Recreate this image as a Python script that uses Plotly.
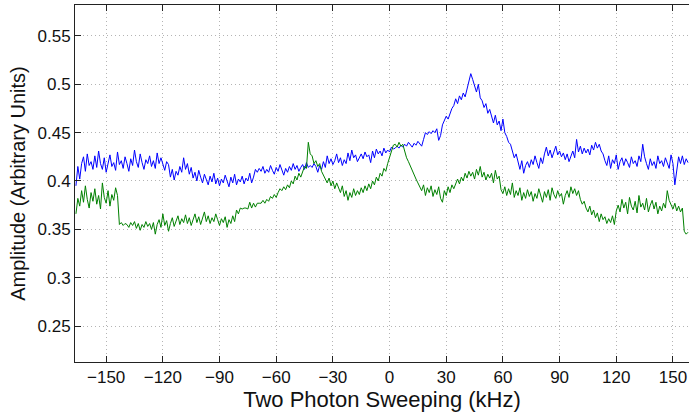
import plotly.graph_objects as go

# Sweep frequency grid (kHz), 1 kHz steps
freq = list(range(-166, 159, 1))

blue = [
    0.395, 0.415, 0.402, 0.418, 0.425, 0.410, 0.428, 0.416, 0.420, 0.412,
    0.426, 0.414, 0.431, 0.418, 0.412, 0.424, 0.409, 0.420, 0.427, 0.415,
    0.419, 0.411, 0.430, 0.417, 0.421, 0.413, 0.425, 0.418, 0.410, 0.423,
    0.416, 0.432, 0.420, 0.414, 0.428, 0.419, 0.412, 0.422, 0.418, 0.426,
    0.415, 0.421, 0.413, 0.429, 0.418, 0.424, 0.416, 0.411, 0.420, 0.417,
    0.404, 0.412, 0.401, 0.410, 0.406, 0.415, 0.409, 0.424, 0.412, 0.418,
    0.407, 0.414, 0.403, 0.409, 0.400, 0.411, 0.404, 0.398, 0.407, 0.401,
    0.396, 0.405, 0.399, 0.408, 0.397, 0.403, 0.395, 0.402, 0.398, 0.406,
    0.400, 0.394, 0.404, 0.398, 0.407, 0.396, 0.402, 0.399, 0.405, 0.397,
    0.403, 0.400, 0.408, 0.398, 0.404, 0.412, 0.409, 0.413, 0.410, 0.415,
    0.408, 0.412, 0.409, 0.416, 0.411, 0.407, 0.414, 0.410, 0.417, 0.412,
    0.406, 0.413, 0.409, 0.415, 0.411, 0.418, 0.412, 0.416, 0.410, 0.414,
    0.417, 0.412, 0.419, 0.414, 0.416, 0.414, 0.418, 0.415, 0.409, 0.416,
    0.412, 0.420, 0.414, 0.426, 0.418, 0.423, 0.417, 0.421, 0.428, 0.419,
    0.424, 0.416, 0.422, 0.418, 0.429, 0.421, 0.432, 0.424, 0.427, 0.420,
    0.425, 0.428, 0.423, 0.430, 0.425, 0.427, 0.419, 0.431, 0.424, 0.433,
    0.428, 0.431, 0.426, 0.434, 0.429, 0.432, 0.430, 0.435, 0.433, 0.434,
    0.436, 0.434, 0.437, 0.435, 0.438, 0.436, 0.440, 0.437, 0.435, 0.439,
    0.437, 0.441, 0.438, 0.436, 0.443, 0.450, 0.448, 0.451, 0.449, 0.452,
    0.450, 0.454, 0.442, 0.447, 0.458, 0.462, 0.467, 0.464, 0.470, 0.475,
    0.478, 0.485, 0.480, 0.488, 0.484, 0.491, 0.487, 0.495, 0.500, 0.511,
    0.505, 0.498, 0.492, 0.500, 0.486, 0.483, 0.476, 0.480, 0.470, 0.474,
    0.466, 0.460, 0.468, 0.458, 0.462, 0.452, 0.464, 0.450, 0.446, 0.440,
    0.438, 0.432, 0.424, 0.428, 0.418, 0.412, 0.421, 0.408, 0.416, 0.420,
    0.414, 0.422, 0.417, 0.426, 0.419, 0.413, 0.424, 0.418, 0.428, 0.435,
    0.426, 0.432, 0.424, 0.430, 0.436, 0.427, 0.431, 0.425, 0.429, 0.422,
    0.428, 0.420, 0.426, 0.431, 0.424, 0.443, 0.430, 0.436, 0.428, 0.434,
    0.429, 0.433, 0.427, 0.437, 0.432, 0.440, 0.434, 0.438, 0.431, 0.428,
    0.421, 0.416, 0.426, 0.413, 0.422, 0.418, 0.427, 0.412, 0.420, 0.424,
    0.416, 0.423, 0.419, 0.414, 0.425, 0.418, 0.421, 0.415, 0.426, 0.420,
    0.438, 0.425, 0.418, 0.412, 0.423, 0.416, 0.420, 0.413, 0.426, 0.418,
    0.421, 0.415, 0.424, 0.419, 0.413, 0.427, 0.418, 0.396, 0.412, 0.425,
    0.418, 0.426, 0.417, 0.423, 0.419,
]

green = [
    0.366, 0.382, 0.374, 0.390, 0.378, 0.395, 0.381, 0.372, 0.388, 0.379,
    0.392, 0.376, 0.385, 0.371, 0.398, 0.383, 0.377, 0.390, 0.374, 0.386,
    0.380, 0.393, 0.385, 0.355, 0.357, 0.354, 0.356, 0.355, 0.352, 0.357,
    0.354, 0.358, 0.351, 0.356, 0.349, 0.355, 0.352, 0.358, 0.353, 0.356,
    0.350, 0.357, 0.345, 0.355, 0.360, 0.352, 0.366, 0.354, 0.359, 0.348,
    0.356, 0.362, 0.353, 0.358, 0.364, 0.355, 0.361, 0.357, 0.365, 0.356,
    0.362, 0.354, 0.360, 0.366, 0.357, 0.363, 0.355, 0.361, 0.368, 0.358,
    0.364, 0.356, 0.362, 0.358, 0.366, 0.360, 0.354, 0.361, 0.357, 0.363,
    0.352, 0.360, 0.356, 0.364, 0.358, 0.370, 0.366, 0.372, 0.371, 0.372,
    0.372, 0.371, 0.378, 0.372, 0.377, 0.373, 0.377, 0.377, 0.377, 0.380,
    0.377, 0.381, 0.379, 0.384, 0.382, 0.386, 0.383, 0.388, 0.392, 0.390,
    0.394, 0.391, 0.396, 0.393, 0.400, 0.397, 0.405, 0.401, 0.408, 0.404,
    0.410, 0.415, 0.413, 0.440, 0.428, 0.426, 0.418, 0.421, 0.415, 0.418,
    0.410, 0.406, 0.402, 0.398, 0.403, 0.395, 0.400, 0.392, 0.398, 0.393,
    0.388, 0.395, 0.384, 0.390, 0.380, 0.388, 0.383, 0.392, 0.385, 0.390,
    0.386, 0.393, 0.388, 0.395, 0.390, 0.397, 0.392, 0.400, 0.396, 0.404,
    0.400, 0.408, 0.405, 0.413, 0.410, 0.418, 0.424, 0.430, 0.437, 0.438,
    0.435, 0.440, 0.436, 0.438, 0.430, 0.424, 0.420, 0.415, 0.410, 0.406,
    0.402, 0.398, 0.394, 0.390, 0.396, 0.385, 0.393, 0.388, 0.395, 0.384,
    0.391, 0.386, 0.394, 0.382, 0.378, 0.390, 0.385, 0.394, 0.388, 0.396,
    0.392, 0.398, 0.402, 0.397, 0.404, 0.400, 0.408, 0.403, 0.410, 0.405,
    0.409, 0.402, 0.412, 0.406, 0.415, 0.404, 0.409, 0.401, 0.407, 0.403,
    0.408, 0.398, 0.411, 0.402, 0.405, 0.391, 0.387, 0.394, 0.385, 0.392,
    0.386, 0.398, 0.383, 0.390, 0.385, 0.393, 0.380, 0.388, 0.382, 0.391,
    0.384, 0.389, 0.379, 0.387, 0.382, 0.392, 0.385, 0.378, 0.389, 0.383,
    0.391, 0.380, 0.393, 0.386, 0.382, 0.390, 0.384, 0.387, 0.376, 0.385,
    0.390, 0.383, 0.394, 0.387, 0.392, 0.385, 0.390, 0.381, 0.376, 0.379,
    0.372, 0.368, 0.374, 0.365, 0.370, 0.362, 0.367, 0.358, 0.366, 0.360,
    0.363, 0.356, 0.361, 0.357, 0.364, 0.355, 0.369, 0.375, 0.368, 0.381,
    0.372, 0.378, 0.366, 0.383, 0.374, 0.370, 0.379, 0.367, 0.385, 0.373,
    0.377, 0.370, 0.382, 0.368, 0.375, 0.380, 0.371, 0.378, 0.366, 0.374,
    0.369, 0.377, 0.372, 0.390, 0.380, 0.375, 0.371, 0.377, 0.369, 0.374,
    0.368, 0.372, 0.348, 0.345, 0.347,
]

x_ticks = [-150, -120, -90, -60, -30, 0, 30, 60, 90, 120, 150]
y_ticks = [0.25, 0.3, 0.35, 0.4, 0.45, 0.5, 0.55]
y_tick_text = ["0.25", "0.3", "0.35", "0.4", "0.45", "0.5", "0.55"]

fig = go.Figure()
fig.add_trace(go.Scatter(x=freq, y=blue, mode="lines",
                         line=dict(color="#0000ff", width=1), showlegend=False))
fig.add_trace(go.Scatter(x=freq, y=green, mode="lines",
                         line=dict(color="#008000", width=1), showlegend=False))

font_family = "Liberation Sans, Arial, Helvetica, sans-serif"
grid_dash = "1px,3px"
fig.update_layout(
    width=690, height=413,
    margin=dict(l=75, r=1, t=5, b=51),
    paper_bgcolor="white", plot_bgcolor="white",
    font=dict(family=font_family, size=17, color="#111"),
)
fig.update_xaxes(
    range=[-166.5, 158.5], tickvals=x_ticks,
    ticks="inside", ticklen=6, tickcolor="#222",
    showline=True, linecolor="#222", linewidth=1, mirror="ticks",
    showgrid=True, gridcolor="#b4b4b4", griddash=grid_dash, gridwidth=1,
    zeroline=False,
    title=dict(text="Two Photon Sweeping (kHz)", font=dict(size=22), standoff=4),
    tickfont=dict(size=17),
)
fig.update_yaxes(
    range=[0.2128, 0.582], tickvals=y_ticks, ticktext=y_tick_text,
    ticks="inside", ticklen=6, tickcolor="#222",
    showline=True, linecolor="#222", linewidth=1,
    showgrid=True, gridcolor="#b4b4b4", griddash=grid_dash, gridwidth=1,
    zeroline=False,
    title=dict(text="Amplitude (Arbitrary Units)", font=dict(size=20), standoff=6),
    tickfont=dict(size=17),
)

fig.write_html("out.html")
